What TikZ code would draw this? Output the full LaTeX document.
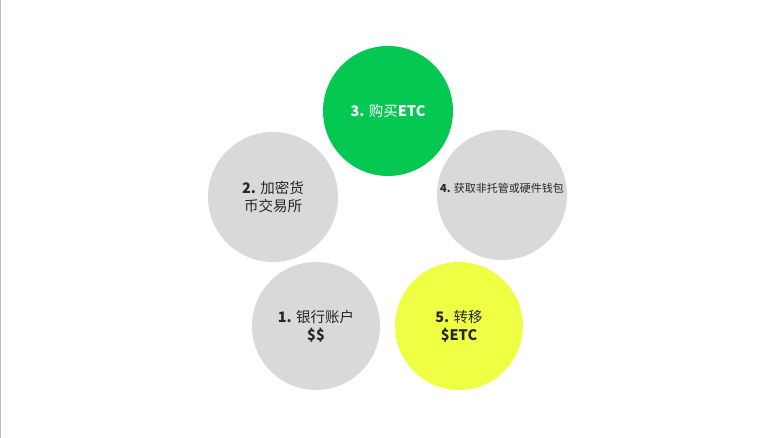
\documentclass[tikz,border=0pt]{standalone}
\usepackage{fontspec}
\newfontfamily\cjk{Noto Sans CJK SC}
\definecolor{cgray}{RGB}{217,217,217}
\definecolor{cgreen}{RGB}{4,200,82}
\definecolor{cyellow}{RGB}{238,255,68}
\definecolor{cedge}{RGB}{190,190,190}
\begin{document}
\begin{tikzpicture}[x=1pt,y=-1pt,
  stepcirc/.style={circle, minimum size=130pt, inner sep=0pt, draw=none},
  lbl/.style={font=\cjk\fontsize{14.5}{18}\selectfont, align=center, text=black!85},
  smalllbl/.style={font=\cjk\fontsize{11}{13}\selectfont, align=center, text=black!85}]
\useasboundingbox (0,0) rectangle (780,438);
\fill[white] (0,0) rectangle (780,438);
\draw[cedge, line width=1.2pt] (0.6,0) -- (0.6,438);
\node[stepcirc, fill=cgreen] (c3) at (388,111) {};
\node[stepcirc, fill=cgray] (c2) at (273,197) {};
\node[stepcirc, fill=cgray] (c4) at (502,195) {};
\node[stepcirc, fill=cgray, minimum size=128pt] (c1) at (316,326) {};
\node[stepcirc, fill=cyellow, minimum size=128pt] (c5) at (459,326) {};
\node[lbl, text=white] (t3) at (c3) {\textbf{3.} 购买\textbf{ETC}};
\node[lbl] (t2) at (c2) {\textbf{2.} 加密货\\币交易所};
\node[smalllbl, anchor=center] (t4) at ([yshift=7pt]c4.center) {\textbf{4.} 获取非托管或硬件钱包};
\node[lbl] (t1) at (c1) {\textbf{1.} 银行账户\\\textbf{\$\$}};
\node[lbl] (t5) at (c5) {\textbf{5.} 转移\\\textbf{\$ETC}};
\end{tikzpicture}
\end{document}
